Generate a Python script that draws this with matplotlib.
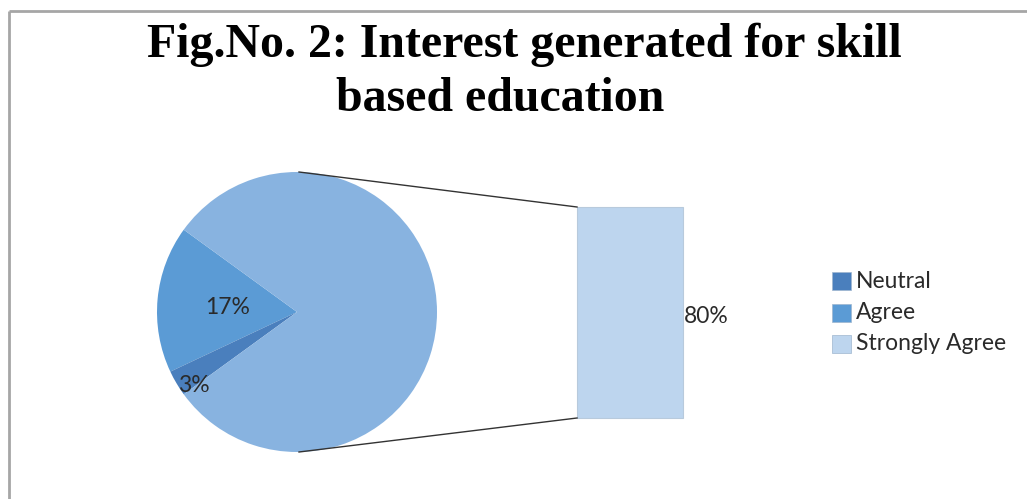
import matplotlib

matplotlib.use("Agg")
import matplotlib.pyplot as plt
from matplotlib.patches import Rectangle

# Survey responses (percent)
pie_labels = ["Agree", "Neutral", "Strongly Agree"]
pie_values = [17, 3, 80]
bar_labels = ["Strongly Agree"]
bar_values = [80]

legend_order = ["Neutral", "Agree", "Strongly Agree"]
colors = {
    "Neutral": "#4a7fbd",
    "Agree": "#5b9bd5",
    "Strongly Agree": "#bdd5ee",
}
pie_other_color = "#88b3e0"

title_lines = ["Fig.No. 2: Interest generated for skill", "based education"]

W, H = 1027, 499
fig = plt.figure(figsize=(W / 100, H / 100), dpi=100)
ax = fig.add_axes([0, 0, 1, 1])

# pie part
cx, cy, r = 297, H - 312, 140
pie_colors = [colors["Agree"], colors["Neutral"], pie_other_color]
ax.pie(pie_values, colors=pie_colors, startangle=144, center=(cx, cy),
       radius=r, counterclock=True, frame=False,
       wedgeprops=dict(edgecolor="none"))
ax.set_xlim(0, W)
ax.set_ylim(0, H)
ax.set_aspect("equal")
ax.axis("off")

# chart frame (only top and left edges fall inside the canvas)
ax.plot([8.5, W], [H - 10.5, H - 10.5], color="#a6a6a6", lw=2, solid_capstyle="butt")
ax.plot([8.5, 8.5], [0, H - 10.5], color="#a6a6a6", lw=2, solid_capstyle="butt")

ax.text(524, H - 57, title_lines[0], ha="center", va="baseline", fontsize=34.5,
        fontweight="bold", family="Liberation Serif")
ax.text(500, H - 111, title_lines[1], ha="center", va="baseline", fontsize=34.5,
        fontweight="bold", family="Liberation Serif")

label_font = dict(fontsize=16.5, family="Lato", color="#2a2a2a")
ax.text(228, H - 308, f"{pie_values[0]}%", ha="center", va="center", **label_font)
ax.text(194, H - 385, f"{pie_values[1]}%", ha="center", va="center", **label_font)

# bar part: stacked column for the split-off slice
bx, bw = 577, 106
b_bottom, b_full = H - 418, 211
total = sum(bar_values)
base = b_bottom
for lab, v in zip(bar_labels, bar_values):
    h = b_full * v / total
    ax.add_patch(Rectangle((bx, base), bw, h, facecolor=colors[lab],
                           edgecolor="#b8cadc", lw=0.8))
    ax.text(bx + bw + 1, base + h / 2 - 4, f"{v}%", ha="left", va="center",
            **label_font)
    base += h

# connector lines
ax.plot([cx + 2, bx], [cy + r, b_bottom + b_full], color="#333333", lw=1)
ax.plot([cx + 2, bx], [cy - r, b_bottom], color="#333333", lw=1)

# legend
for i, lab in enumerate(legend_order):
    y = H - 281 - i * 31.5
    ax.add_patch(Rectangle((832, y - 9), 19, 18, facecolor=colors[lab],
                           edgecolor="#9fb6cf", lw=0.5))
    ax.text(856, y, lab, ha="left", va="center", **label_font)

fig.savefig("out.png", dpi=100)
